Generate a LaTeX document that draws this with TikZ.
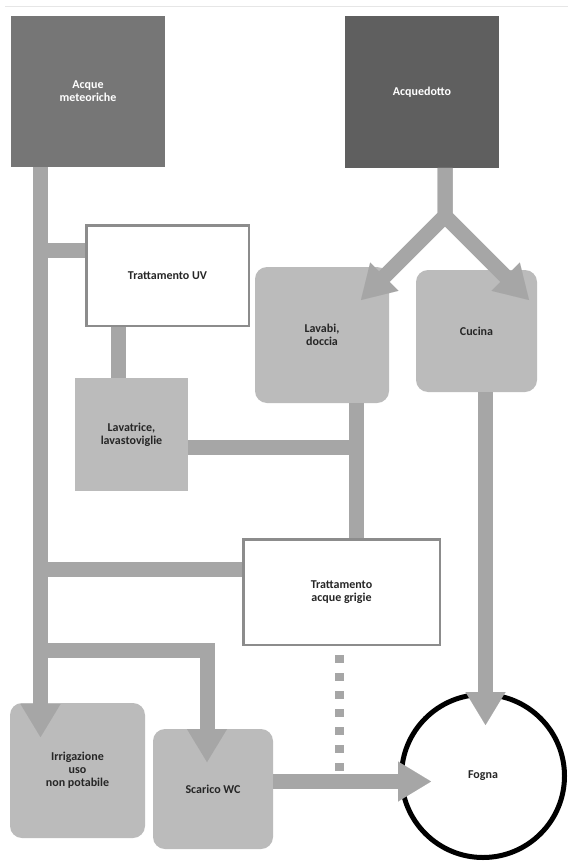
\documentclass[tikz,border=0pt]{standalone}
\usepackage{fontspec}
\setmainfont{Carlito}
\usetikzlibrary{arrows.meta}
\definecolor{pipe}{HTML}{A6A6A6}
\definecolor{boxgray}{HTML}{BBBBBB}
\definecolor{darkA}{HTML}{767676}
\definecolor{darkB}{HTML}{5F5F5F}
\definecolor{frame}{HTML}{8C8C8C}
\definecolor{topline}{HTML}{E6E6E6}
\begin{document}
\begin{tikzpicture}[x=1pt,y=-1pt,
  lbl/.style={font=\fontsize{12}{13}\selectfont\bfseries, align=center, text=black!85},
  source/.style={lbl, text=white, minimum width=154pt, minimum height=151pt, inner sep=0pt},
  usebox/.style={lbl, fill=boxgray, rounded corners=12pt, inner sep=0pt},
  treat/.style={lbl, fill=white, draw=frame, line width=2.5pt, inner sep=0pt},
  pipeline/.style={draw=pipe, line width=15pt, line join=miter},
  pipearrow/.style={pipeline, -{Triangle[width=40pt,length=33pt,line width=0.01pt]}},
  dotline/.style={draw=pipe, line width=9pt, dash pattern=on 8pt off 10pt}
]
\fill[white] (0,0) rectangle (568,861);
\useasboundingbox (0,0) rectangle (568,861);
\draw[topline, line width=1pt] (5,7) -- (568,7);

% nodes
\node[source, fill=darkA] (am) at (88,91.5) {Acque\\meteoriche};
\node[source, fill=darkB, minimum height=152pt] (aq) at (422,92) {Acquedotto};
\node[treat, minimum width=162.5pt, minimum height=100.5pt] (uv) at (167.5,275.5) {Trattamento UV};
\node[usebox, minimum width=134pt, minimum height=136pt] (lav) at (322,335) {Lavabi,\\doccia};
\node[usebox, minimum width=121pt, minimum height=122pt] (cuc) at (476.5,331) {Cucina};
\node[usebox, rounded corners=0pt, minimum width=113pt, minimum height=113pt] (lt) at (131.5,434.5) {Lavatrice,\\lavastoviglie};
\node[treat, minimum width=196.5pt, minimum height=105.5pt] (tag) at (341.5,592) {Trattamento\\acque grigie};
\node[usebox, minimum width=135pt, minimum height=135pt] (irr) at (77.5,770.5) {Irrigazione\\uso\\non potabile};
\node[usebox, minimum width=120pt, minimum height=120pt] (wc) at (213,789) {Scarico WC};
\node[lbl, circle, draw=black, line width=5pt, minimum size=163pt, inner sep=0pt] (fog) at (483,776) {Fogna};

% coordinates
\coordinate (j1) at (40.5,250);
\coordinate (j2) at (40.5,569);
\coordinate (j3) at (40.5,650);
\coordinate (irrin) at (40.5,737);
\coordinate (wcbend) at (207,650);
\coordinate (wcin) at (207,762);
\coordinate (uvx) at (118,0);
\coordinate (lavj) at (356,447.5);
\coordinate (aqout) at (445,168);
\coordinate (fork) at (445,216);
\coordinate (lavin) at (361,300);
\coordinate (cucin) at (529,300);
\coordinate (fogtop) at (485.5,725);
\coordinate (fogleft) at (431,781.5);
\coordinate (dotstart) at (339,655);
\coordinate (dotend) at (339,772);

% pipes
\draw[pipearrow] (am.south -| irrin) -- (irrin);
\draw[pipeline] (j1) -- (uv.west |- j1);
\draw[pipeline] (uv.south -| uvx) -- (lt.north -| uvx);
\draw[pipeline] (lt.east |- lavj) -- (lavj);
\draw[pipeline] (lav.south -| lavj) -- (tag.north -| lavj);
\draw[pipeline] (j2) -- (tag.west |- j2);
\draw[pipearrow] (j3) -- (wcbend) -- (wcin);
\draw[pipearrow] (aqout) -- (fork) -- (lavin);
\draw[pipearrow] (aqout) -- (fork) -- (cucin);
\draw[pipearrow] (cuc.south -| fogtop) -- (fogtop);
\draw[pipearrow] (wc.east |- fogleft) -- (fogleft);
\draw[dotline] (dotstart) -- (dotend);
\end{tikzpicture}
\end{document}
